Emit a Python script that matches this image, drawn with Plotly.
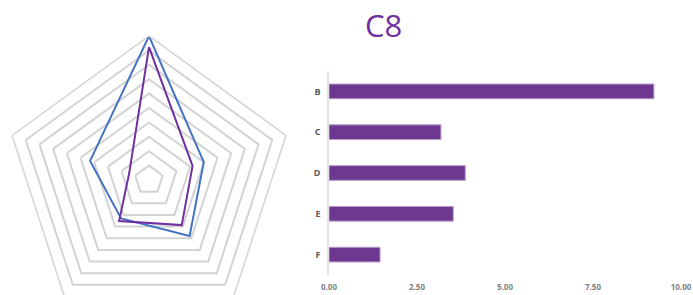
import plotly.graph_objects as go

# ---- data ----
categories = ["B", "C", "D", "E", "F"]
c8_values = [9.23, 3.18, 3.87, 3.53, 1.45]
benchmark_values = [10.0, 4.0, 4.8, 3.3, 4.3]
x_ticks = [0, 2.5, 5, 7.5, 10]
x_tick_labels = ["0.00", "2.50", "5.00", "7.50", "10.00"]
title_text = "C8"

W, H = 693, 330

PURPLE = "#7030A0"
BAR_PURPLE = "#6E3891"
BLUE = "#4472C4"
GRID = "#D3D3D3"

fig = go.Figure()

# radar (closed loops)
fig.add_trace(go.Scatterpolar(
    r=benchmark_values + benchmark_values[:1],
    theta=categories + categories[:1],
    mode="lines", line=dict(color=BLUE, width=2),
    name="Benchmark", showlegend=False,
))
fig.add_trace(go.Scatterpolar(
    r=c8_values + c8_values[:1],
    theta=categories + categories[:1],
    mode="lines", line=dict(color=PURPLE, width=2),
    name=title_text, showlegend=False,
))

# bars
fig.add_trace(go.Bar(
    x=c8_values, y=categories, orientation="h",
    marker=dict(color=BAR_PURPLE, line=dict(color="#B79CCB", width=1)),
    name=title_text, showlegend=False, xaxis="x", yaxis="y",
))

def px_x(p):
    return p / W

def px_y(p):
    return (H - p) / H

fig.update_layout(
    width=W, height=H,
    margin=dict(l=0, r=0, t=0, b=0, autoexpand=False),
    paper_bgcolor="white", plot_bgcolor="white",
    font=dict(family="Open Sans, sans-serif", color="#595959"),
    polar=dict(
        domain=dict(x=[px_x(5), px_x(293)], y=[px_y(324), px_y(36)]),
        gridshape="linear",
        bgcolor="white",
        radialaxis=dict(range=[0, 10], dtick=1, showline=False, showticklabels=False,
                        ticks="", gridcolor=GRID, gridwidth=1.5),
        angularaxis=dict(direction="clockwise", rotation=90, showgrid=False,
                         showticklabels=False, ticks="", linecolor=GRID, linewidth=1.5),
    ),
    xaxis=dict(domain=[px_x(329), px_x(681)], range=[0, 10],
               tickvals=x_ticks, ticktext=x_tick_labels, automargin=False,
               showgrid=False, zeroline=False, showline=False, ticks="",
               ticklabelstandoff=6,
               tickfont=dict(size=8, color="#7F7F7F", weight="bold"), anchor="y"),
    yaxis=dict(domain=[px_y(275), px_y(71)], categoryorder="array",
               categoryarray=categories, autorange="reversed", automargin=False,
               showgrid=False, zeroline=False, showline=True, linecolor="#E3E3E3",
               linewidth=1.5, ticks="", ticklabelstandoff=5,
               tickfont=dict(size=9, color="#595959", weight="bold"), anchor="x"),
    bargap=0.64,
    annotations=[dict(text=title_text, x=px_x(383), y=px_y(25), xref="paper", yref="paper",
                      xanchor="center", yanchor="middle",
                      showarrow=False, font=dict(size=31, color=PURPLE,
                                                 family="Open Sans, sans-serif"))],
)

fig.write_html(
    "out.html",
    config={"displayModeBar": False},
    post_script="document.body.style.margin='0px';document.body.style.overflow='hidden';",
)
